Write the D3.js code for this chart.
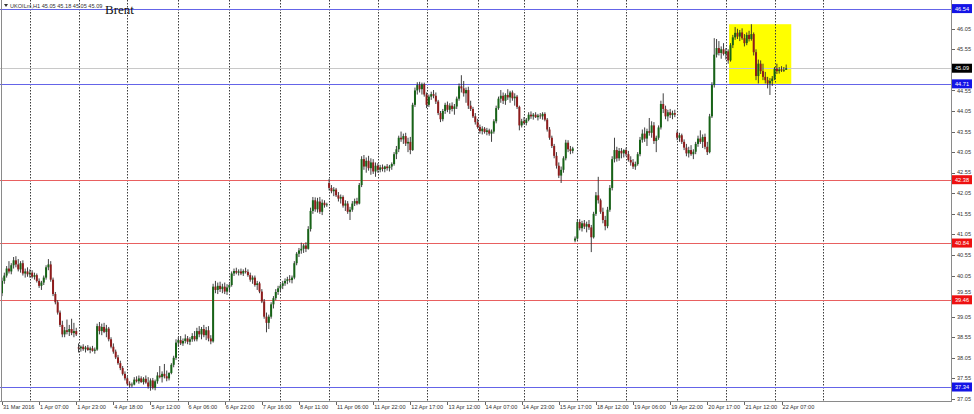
<!DOCTYPE html>
<html><head><meta charset="utf-8">
<script src="https://cdn.jsdelivr.net/npm/d3@7"></script>
<style>body{margin:0;background:#fff;} svg{display:block;}</style>
</head><body>
<svg id="c" width="974" height="414"></svg>
<script>
const opens = [
39.62,39.92,40.05,40.22,40.15,40.30,40.42,40.32,40.20,40.35,
40.10,40.15,40.08,40.12,40.02,40.06,39.92,39.80,39.88,40.00,
40.25,40.32,39.95,39.60,39.40,39.15,38.85,38.62,38.72,38.68,
38.75,38.65,38.70,38.30,38.28,38.32,38.26,38.30,38.24,38.28,
38.22,38.25,38.82,38.70,38.80,38.68,38.76,38.50,38.32,38.20,
38.06,37.92,37.80,37.66,37.55,37.42,37.38,37.40,37.52,37.48,
37.55,37.46,37.54,37.45,37.35,37.50,37.32,37.48,37.62,37.58,
37.66,37.60,37.55,37.68,37.88,38.05,38.42,38.48,38.40,38.46,
38.52,38.44,38.50,38.58,38.50,38.70,38.62,38.75,38.60,38.72,
38.52,38.45,39.78,39.70,39.80,39.72,39.78,39.66,39.76,39.82,
40.10,40.16,40.12,40.15,40.10,40.16,40.14,40.06,39.95,40.00,
39.82,39.86,39.66,39.42,39.05,38.90,39.05,39.35,39.50,39.65,
39.74,39.80,39.86,39.92,39.96,39.94,40.00,40.35,40.58,40.66,
40.70,40.78,40.70,41.18,41.62,41.88,41.66,41.85,41.60,41.82,
41.76,42.30,42.18,42.10,42.14,42.00,41.92,41.96,41.75,41.80,
41.60,41.65,41.80,41.86,41.80,42.25,42.88,42.70,42.84,42.66,
42.80,42.58,42.72,42.62,42.68,42.64,42.70,42.66,42.70,42.76,
43.00,43.12,43.40,43.36,43.44,43.26,43.30,43.10,44.20,44.55,
44.68,44.58,44.70,44.45,44.20,44.40,44.46,44.42,44.28,44.00,
43.85,44.05,44.20,44.08,44.18,44.10,44.16,44.35,44.65,44.60,
44.48,44.56,44.18,44.10,43.92,43.78,43.66,43.56,43.62,43.54,
43.58,43.50,43.55,43.80,44.12,44.35,44.42,44.30,44.44,44.38,
44.50,44.36,44.40,44.15,43.70,43.80,43.76,43.84,43.96,43.92,
43.96,43.90,43.94,43.92,43.98,43.84,43.60,43.40,43.20,42.96,
42.72,42.48,42.62,42.90,43.28,43.12,43.08,40.90,40.95,41.35,
41.20,41.32,41.24,41.30,41.22,40.98,41.55,42.00,41.88,41.60,
41.40,41.25,41.65,42.18,42.88,43.10,42.90,43.08,43.02,43.10,
43.00,42.86,42.80,42.70,42.76,43.00,43.35,43.50,43.38,43.56,
43.52,43.70,43.32,43.40,43.65,44.22,44.10,43.92,44.02,43.95,
44.00,43.52,43.40,43.46,43.30,43.16,43.02,43.10,43.00,43.06,
43.25,43.38,43.30,43.42,43.18,43.05,43.92,44.68,45.42,45.58,
45.46,45.55,45.44,45.50,45.28,45.65,45.84,45.95,45.86,45.96,
45.82,45.70,45.90,45.80,45.92,45.48,44.90,45.20,45.02,44.88,
44.80,44.72,44.78,44.84,45.08,45.02,45.06,45.04,45.05];
const highs = [
40.00,40.12,40.28,40.40,40.35,40.50,40.52,40.45,40.40,40.42,
40.22,40.25,40.20,40.18,40.12,40.10,39.98,39.92,40.05,40.30,
40.45,40.40,40.00,39.65,39.45,39.20,38.95,38.80,38.98,38.85,
39.00,38.90,38.78,38.40,38.35,38.38,38.34,38.36,38.32,38.34,
38.30,38.88,38.92,38.88,38.90,38.85,38.80,38.55,38.40,38.25,
38.12,37.98,37.85,37.72,37.60,37.48,37.45,37.58,37.60,37.62,
37.60,37.58,37.62,37.58,37.55,37.56,37.52,37.70,37.85,37.72,
37.90,37.74,37.70,37.92,38.10,38.50,38.55,38.58,38.52,38.62,
38.58,38.55,38.65,38.70,38.78,38.82,38.80,38.85,38.80,38.82,
38.60,39.85,39.92,39.88,39.90,39.85,39.88,39.84,39.86,40.15,
40.22,40.24,40.20,40.22,40.20,40.24,40.20,40.12,40.05,40.05,
39.92,39.90,39.72,39.48,39.15,39.10,39.40,39.55,39.72,39.80,
39.85,39.92,39.98,40.02,40.06,40.05,40.40,40.62,40.72,40.85,
40.82,40.86,41.25,41.70,41.96,41.95,41.94,41.96,41.90,41.88,
41.82,42.40,42.25,42.20,42.18,42.08,42.02,42.00,41.88,41.86,
41.72,41.86,41.92,41.94,42.30,42.95,42.98,42.92,42.96,42.90,
42.88,42.80,42.78,42.74,42.75,42.72,42.76,42.74,42.80,43.05,
43.20,43.45,43.55,43.50,43.52,43.40,43.42,44.25,44.62,44.75,
44.76,44.74,44.74,44.50,44.45,44.52,44.56,44.50,44.32,44.05,
44.10,44.25,44.28,44.24,44.26,44.22,44.40,44.72,44.92,44.78,
44.62,44.64,44.30,44.15,44.00,43.86,43.72,43.68,43.66,43.64,
43.62,43.60,43.85,44.18,44.40,44.56,44.50,44.48,44.58,44.54,
44.55,44.48,44.44,44.18,43.86,43.90,43.88,44.02,44.04,44.00,
44.02,43.98,44.00,44.02,44.02,43.88,43.66,43.45,43.25,43.05,
42.80,42.70,42.95,43.35,43.34,43.20,43.18,41.00,41.42,41.42,
41.38,41.40,41.36,41.40,41.28,41.60,42.08,42.45,41.92,41.70,
41.50,41.72,42.25,42.95,43.40,43.18,43.15,43.15,43.12,43.16,
43.08,42.95,42.88,42.82,43.05,43.42,43.60,43.65,43.62,43.88,
43.80,43.78,43.45,43.70,44.30,44.48,44.18,44.08,44.10,44.06,
44.08,43.58,43.52,43.50,43.36,43.25,43.18,43.22,43.12,43.30,
43.45,43.58,43.48,43.50,43.30,43.98,44.75,45.82,45.80,45.75,
45.62,45.70,45.58,45.55,45.70,45.90,46.09,46.05,46.02,46.06,
45.92,45.96,46.00,46.16,45.96,45.55,45.30,45.28,45.20,45.00,
44.88,44.85,44.90,45.12,45.20,45.12,45.14,45.12,45.18];
const lows = [
39.55,39.85,40.00,40.10,40.08,40.22,40.25,40.15,40.12,40.05,
40.00,40.02,40.00,39.98,39.95,39.88,39.75,39.70,39.82,39.95,
40.18,39.90,39.55,39.35,39.10,38.80,38.55,38.55,38.62,38.58,
38.60,38.55,38.58,38.18,38.20,38.22,38.18,38.22,38.16,38.20,
38.15,38.22,38.62,38.60,38.65,38.55,38.45,38.28,38.15,38.02,
37.88,37.75,37.62,37.50,37.38,37.32,37.33,37.38,37.45,37.42,
37.44,37.40,37.42,37.30,37.25,37.28,37.26,37.42,37.55,37.45,
37.55,37.48,37.50,37.65,37.82,38.00,38.32,38.36,38.34,38.40,
38.38,38.36,38.44,38.45,38.45,38.55,38.50,38.55,38.48,38.45,
38.38,38.42,39.62,39.60,39.65,39.62,39.60,39.58,39.66,39.78,
40.04,40.08,40.05,40.06,40.04,40.10,40.02,39.90,39.85,39.78,
39.70,39.62,39.38,39.00,38.67,38.75,39.00,39.25,39.45,39.58,
39.66,39.72,39.80,39.84,39.88,39.86,39.96,40.30,40.50,40.58,
40.60,40.62,40.68,41.12,41.55,41.60,41.58,41.55,41.52,41.70,
41.72,42.12,42.05,41.98,41.96,41.85,41.80,41.70,41.62,41.55,
41.40,41.60,41.74,41.76,41.78,42.20,42.62,42.55,42.60,42.50,
42.52,42.45,42.55,42.56,42.58,42.56,42.60,42.58,42.62,42.72,
42.88,43.05,43.30,43.25,43.20,43.05,43.00,43.08,44.15,44.45,
44.50,44.45,44.40,44.12,44.15,44.32,44.36,44.22,43.95,43.78,
43.80,43.98,44.02,43.98,44.04,43.96,44.10,44.30,44.50,44.40,
44.25,44.10,44.05,43.88,43.72,43.62,43.50,43.48,43.50,43.46,
43.45,43.30,43.50,43.75,44.08,44.25,44.22,44.20,44.32,44.25,
44.30,44.18,44.10,43.58,43.65,43.72,43.70,43.80,43.86,43.84,
43.88,43.82,43.86,43.84,43.80,43.55,43.35,43.15,42.90,42.65,
42.42,42.30,42.55,42.85,43.05,43.00,43.02,40.86,40.92,41.15,
41.12,41.18,41.10,41.16,40.62,40.95,41.50,41.80,41.55,41.32,
41.15,41.20,41.60,42.12,42.80,42.82,42.84,42.90,42.92,42.95,
42.82,42.72,42.64,42.62,42.72,42.95,43.28,43.30,43.20,43.45,
43.40,43.25,43.05,43.35,43.60,44.00,43.85,43.80,43.88,43.85,
43.90,43.34,43.30,43.25,43.10,42.95,42.92,42.96,42.88,43.00,
43.18,43.25,43.15,43.12,42.98,43.02,43.88,44.62,45.35,45.40,
45.32,45.40,45.30,45.20,45.25,45.58,45.78,45.80,45.75,45.78,
45.62,45.65,45.74,45.76,45.40,44.80,44.72,44.95,44.80,44.72,
44.60,44.44,44.66,44.80,44.95,44.96,45.00,45.00,45.05];
const closes = [
39.92,40.05,40.22,40.15,40.30,40.42,40.32,40.20,40.35,40.10,
40.15,40.08,40.12,40.02,40.06,39.92,39.80,39.88,40.00,40.25,
40.32,39.95,39.60,39.40,39.15,38.85,38.62,38.72,38.68,38.75,
38.65,38.70,38.62,38.28,38.32,38.26,38.30,38.24,38.28,38.22,
38.25,38.82,38.70,38.80,38.68,38.76,38.50,38.32,38.20,38.06,
37.92,37.80,37.66,37.55,37.42,37.38,37.40,37.52,37.48,37.55,
37.46,37.54,37.45,37.35,37.50,37.32,37.48,37.62,37.58,37.66,
37.60,37.55,37.68,37.88,38.05,38.42,38.48,38.40,38.46,38.52,
38.44,38.50,38.58,38.50,38.70,38.62,38.75,38.60,38.72,38.52,
38.45,39.78,39.70,39.80,39.72,39.78,39.66,39.76,39.82,40.10,
40.16,40.12,40.15,40.10,40.16,40.14,40.06,39.95,40.00,39.82,
39.86,39.66,39.42,39.05,38.90,39.05,39.35,39.50,39.65,39.74,
39.80,39.86,39.92,39.96,39.94,40.00,40.35,40.58,40.66,40.70,
40.78,40.70,41.18,41.62,41.88,41.66,41.85,41.60,41.82,41.76,
41.78,42.18,42.10,42.14,42.00,41.92,41.96,41.75,41.80,41.60,
41.65,41.80,41.86,41.80,42.25,42.88,42.70,42.84,42.66,42.80,
42.58,42.72,42.62,42.68,42.64,42.70,42.66,42.70,42.76,43.00,
43.12,43.40,43.36,43.44,43.26,43.30,43.10,44.20,44.55,44.68,
44.58,44.70,44.45,44.20,44.40,44.46,44.42,44.28,44.00,43.85,
44.05,44.20,44.08,44.18,44.10,44.16,44.35,44.65,44.60,44.48,
44.56,44.18,44.10,43.92,43.78,43.66,43.56,43.62,43.54,43.58,
43.50,43.55,43.80,44.12,44.35,44.42,44.30,44.44,44.38,44.50,
44.36,44.40,44.15,43.70,43.80,43.76,43.84,43.96,43.92,43.96,
43.90,43.94,43.92,43.98,43.84,43.60,43.40,43.20,42.96,42.72,
42.48,42.62,42.90,43.28,43.12,43.08,43.14,40.95,41.35,41.20,
41.32,41.24,41.30,41.22,40.98,41.55,42.00,41.88,41.60,41.40,
41.25,41.65,42.18,42.88,43.10,42.90,43.08,43.02,43.10,43.00,
42.86,42.80,42.70,42.76,43.00,43.35,43.50,43.38,43.56,43.52,
43.70,43.32,43.40,43.65,44.22,44.10,43.92,44.02,43.95,44.00,
43.96,43.40,43.46,43.30,43.16,43.02,43.10,43.00,43.06,43.25,
43.38,43.30,43.42,43.18,43.05,43.92,44.68,45.42,45.58,45.46,
45.55,45.44,45.50,45.28,45.65,45.84,45.95,45.86,45.96,45.82,
45.70,45.90,45.80,45.92,45.48,44.90,45.20,45.02,44.88,44.80,
44.72,44.78,44.84,45.08,45.02,45.06,45.04,45.05,45.09];

const timeLabels = ["31 Mar 2016","1 Apr 07:00","1 Apr 23:00","4 Apr 18:00","5 Apr 12:00","6 Apr 06:00","6 Apr 22:00","7 Apr 16:00","8 Apr 11:00","11 Apr 06:00","11 Apr 22:00","12 Apr 17:00","13 Apr 12:00","14 Apr 07:00","14 Apr 23:00","15 Apr 17:00","18 Apr 12:00","19 Apr 06:00","19 Apr 22:00","20 Apr 17:00","21 Apr 12:00","22 Apr 07:00"];
const labelBars = [0,16,32,48,64,80,96,112,128,144,160,176,192,208,224,240,256,272,288,304,320,336];
const gridBars = [12,33,54,76,98,120,141,162,183,205,225,248,269,291,312,333,354];
const priceTicks = [37.05,37.55,38.05,38.55,39.05,39.55,40.05,40.55,41.05,41.55,42.05,42.55,43.05,43.55,44.05,44.55,45.05,45.55,46.05];
const levelPrices = [46.54, 44.71, 42.38, 40.84, 39.46, 37.34];
const levelKinds = ["support","support","resist","resist","resist","support"];
const bidPrice = 45.09;
const zoneBars = [313.4, 340.2];
const zonePrices = [44.71, 46.16];
const symbolText = "UKOILm,H1  45.05 45.18 45.05 45.09";
const titleText = "Brent";

const plotL = 0, plotR = 951, plotT = 0, plotB = 401;
const svg = d3.select("#c");
const x = d3.scaleLinear().domain([0, 409]).range([2, 950.9]);
const y = d3.scaleLinear().domain([37.0, 46.70]).range([plotB, 2]);
const font = "'Liberation Sans', Arial, sans-serif";

// zone rectangle (background)
svg.append("rect")
  .attr("x", x(zoneBars[0])).attr("y", y(zonePrices[1]))
  .attr("width", x(zoneBars[1]) - x(zoneBars[0]))
  .attr("height", y(zonePrices[0]) - y(zonePrices[1]))
  .attr("fill", "#ffff00");

// dotted vertical grid
svg.append("g").selectAll("line").data(gridBars).join("line")
  .attr("x1", d => Math.round(x(d)) + 0.5).attr("x2", d => Math.round(x(d)) + 0.5)
  .attr("y1", plotT).attr("y2", plotB)
  .attr("stroke", "#3c3c3c").attr("stroke-width", 1)
  .attr("stroke-dasharray", "1.5,1.5");

// bid line
svg.append("line")
  .attr("x1", plotL).attr("x2", plotR)
  .attr("y1", Math.round(y(bidPrice)) + 0.5).attr("y2", Math.round(y(bidPrice)) + 0.5)
  .attr("stroke", "#c8c8c8").attr("stroke-width", 1);

// level lines
const lineCol = k => k === "support" ? "#6464e8" : "#e86060";
const boxCol = k => k === "support" ? "#1414e6" : "#ee1111";
svg.append("g").selectAll("line").data(levelPrices).join("line")
  .attr("x1", plotL).attr("x2", plotR)
  .attr("y1", d => Math.round(y(d)) + 0.5).attr("y2", d => Math.round(y(d)) + 0.5)
  .attr("stroke", (d, i) => lineCol(levelKinds[i])).attr("stroke-width", 1);

// candles
const bars = d3.range(closes.length).map(i => ({i, o: opens[i], h: highs[i], l: lows[i], c: closes[i]}));
const cg = svg.append("g");
cg.selectAll("line").data(bars).join("line")
  .attr("x1", d => x(d.i)).attr("x2", d => x(d.i))
  .attr("y1", d => y(Math.max(d.h, d.o, d.c))).attr("y2", d => y(Math.min(d.l, d.o, d.c)))
  .attr("stroke", "#2a2a2a").attr("stroke-width", 0.9);
cg.selectAll("rect").data(bars).join("rect")
  .attr("x", d => x(d.i) - 1).attr("width", 2)
  .attr("y", d => y(Math.max(d.o, d.c)))
  .attr("height", d => Math.max(0.8, Math.abs(y(d.o) - y(d.c))))
  .attr("fill", d => d.c >= d.o ? "#176317" : "#8e1c1c");

// frame
svg.append("line").attr("x1", plotR + 0.5).attr("x2", plotR + 0.5).attr("y1", 0).attr("y2", plotB + 1)
  .attr("stroke", "#8a8a8a").attr("stroke-width", 1);
svg.append("line").attr("x1", 0).attr("x2", plotR + 1).attr("y1", plotB + 0.5).attr("y2", plotB + 0.5)
  .attr("stroke", "#8a8a8a").attr("stroke-width", 1);
svg.append("line").attr("x1", 1.5).attr("x2", 1.5).attr("y1", 0).attr("y2", plotB)
  .attr("stroke", "#8a8a8a").attr("stroke-width", 1);

// price axis: labels covered by the bid box are not shown; labels touching a box are nudged clear of it
const boxes = levelPrices.map((p, i) => ({p, col: boxCol(levelKinds[i])})).concat([{p: bidPrice, col: "#000"}]);
const visibleTicks = priceTicks.filter(t => !boxes.some(b => Math.abs(y(b.p) - y(t)) < 3));
const tickTextY = t => {
  let ty = y(t);
  boxes.forEach(b => {
    const d = ty - y(b.p);
    if (Math.abs(d) < 7.6) ty = y(b.p) + (d < 0 ? -7.6 : 7.6);
  });
  return ty;
};
const pa = svg.append("g");
pa.selectAll("line").data(priceTicks).join("line")
  .attr("x1", plotR + 1).attr("x2", plotR + 4)
  .attr("y1", d => Math.round(y(d)) + 0.5).attr("y2", d => Math.round(y(d)) + 0.5)
  .attr("stroke", "#666");
pa.selectAll("text").data(visibleTicks).join("text")
  .attr("x", plotR + 6).attr("y", d => tickTextY(d)).attr("dy", "0.35em")
  .attr("font-family", font).attr("font-size", 5.6).attr("fill", "#333")
  .text(d => d.toFixed(2));

// level price boxes
const bg = svg.append("g");
bg.selectAll("rect").data(boxes).join("rect")
  .attr("x", plotR + 1).attr("y", d => y(d.p) - 4.5).attr("width", 20).attr("height", 9)
  .attr("fill", d => d.col);
bg.selectAll("text").data(boxes).join("text")
  .attr("x", plotR + 11).attr("y", d => y(d.p)).attr("dy", "0.35em").attr("text-anchor", "middle")
  .attr("font-family", font).attr("font-size", 5.6).attr("fill", "#fff")
  .text(d => d.p.toFixed(2));

// time axis labels
const ta = svg.append("g");
ta.selectAll("line").data(labelBars).join("line")
  .attr("x1", d => Math.round(x(d)) + 0.5).attr("x2", d => Math.round(x(d)) + 0.5)
  .attr("y1", plotB + 1).attr("y2", plotB + 4).attr("stroke", "#666");
ta.selectAll("text").data(labelBars).join("text")
  .attr("x", d => x(d) + 1).attr("y", 409)
  .attr("font-family", font).attr("font-size", 5.6).attr("fill", "#333")
  .text((d, i) => timeLabels[i]);

// header
svg.append("path").attr("d", "M4,4 L8,4 L6,7 Z").attr("fill", "#333");
svg.append("text").attr("x", 10).attr("y", 7.5)
  .attr("font-family", font).attr("font-size", 5.6).attr("fill", "#333")
  .text(symbolText);
svg.append("text").attr("x", 105).attr("y", 14)
  .attr("font-family", "'Liberation Serif', 'Times New Roman', serif").attr("font-size", 13).attr("fill", "#111")
  .text(titleText);
</script>
</body></html>
